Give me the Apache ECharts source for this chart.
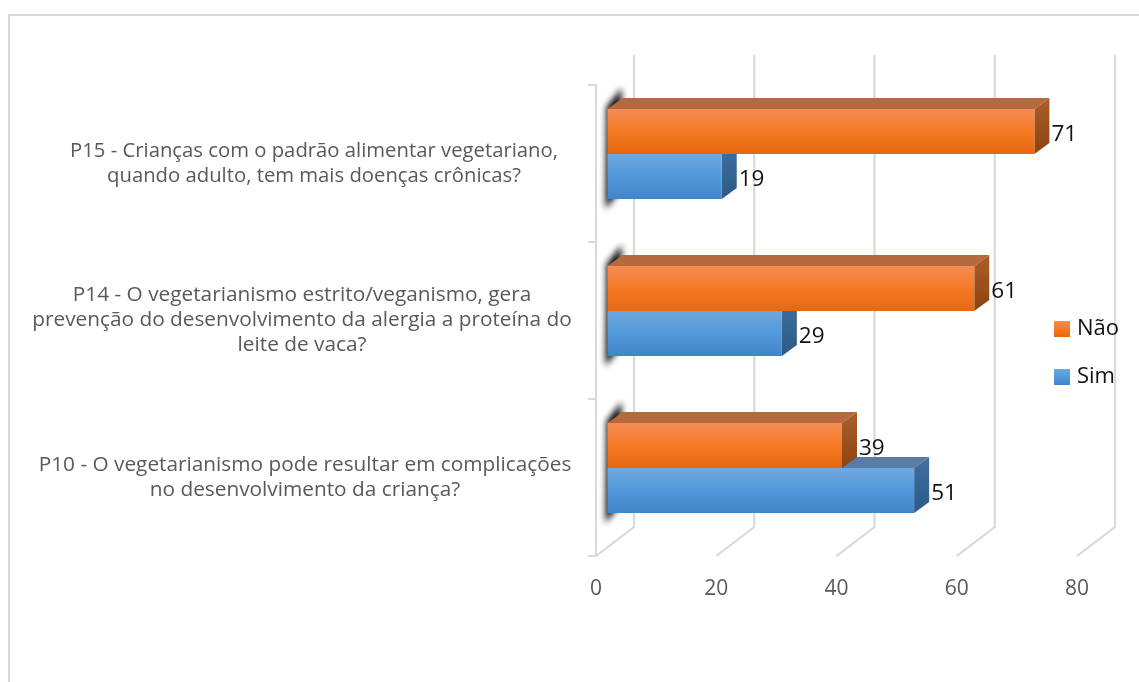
<!DOCTYPE html>
<html>
<head>
<meta charset="utf-8">
<script src="https://cdn.jsdelivr.net/npm/echarts@6/dist/echarts.min.js"></script>
<style>
  html, body { margin: 0; padding: 0; background: #fff; }
  #main { width: 1139px; height: 682px; }
</style>
</head>
<body>
<div id="main"></div>
<script>
// de baixo para cima, como no grafico original
const categories = [
  'P10 - O vegetarianismo pode resultar em complicações\nno desenvolvimento da criança?',
  'P14 - O vegetarianismo estrito/veganismo, gera\nprevenção do desenvolvimento da alergia a proteína do\nleite de vaca?',
  'P15 - Crianças com o padrão alimentar vegetariano,\nquando adulto, tem mais doenças crônicas?'
]
const simValues = [51, 29, 19]
const naoValues = [39, 61, 71]
const ticks = [0, 20, 40, 60, 80]

// deslocamentos do falso 3D (px)
const wallDx = 38, wallDy = -29
const barDx = 11.5, barDy = -9.5
const depthDx = 15, depthDy = -11
const barH = 45
// cada rotulo do eixo tem um centro diferente no original
const labelPadding = [[2, 18, 0, 0], [0, 24, 4, 0], [0, 0, 0, 0]]
const labelSize = [20.8, 20.8, 20.3]
const shadowFar = 3000

const vGrad = (stops) => ({
  type: 'linear', x: 0, y: 0, x2: 0, y2: 1,
  colorStops: stops.map((c, i) => ({ offset: i / (stops.length - 1), color: c }))
})

const orange = {
  front: vGrad(['#f58c53', '#f57a26', '#e6670f']),
  top: '#b5693f',
  side: vGrad(['#ab5e2a', '#8c4510'])
}
const blue = {
  front: vGrad(['#6fa8df', '#5298da', '#4285c6']),
  top: '#587ca6',
  side: vGrad(['#41709f', '#2a5a88'])
}

const poly = (points, fill, extra) => ({
  type: 'polygon',
  shape: { points },
  style: Object.assign({ fill }, extra || {})
})

// barra 3D: slot 0 = metade de cima da categoria, 1 = metade de baixo
function barRender(colors, slot) {
  return (params, api) => {
    const value = api.value(0)
    const cat = api.value(1)
    const p0 = api.coord([0, cat])
    const p1 = api.coord([value, cat])
    const x0 = p0[0] + barDx
    const x1 = p1[0] + barDx
    const y0 = p0[1] + barDy - barH + slot * barH
    const y1 = y0 + barH
    return {
      type: 'group',
      children: [
        poly([[x0, y0], [x1, y0], [x1 + depthDx, y0 + depthDy], [x0 + depthDx, y0 + depthDy]], colors.top),
        poly([[x1, y0], [x1 + depthDx, y0 + depthDy], [x1 + depthDx, y1 + depthDy], [x1, y1]], colors.side),
        poly([[x0, y0], [x1, y0], [x1, y1], [x0, y1]], colors.front),
        {
          type: 'text',
          style: {
            text: String(value),
            x: x1 + depthDx + 2,
            y: (y0 + y1) / 2 + 3.5,
            fill: '#111',
            font: '22.5px "Open Sans"',
            verticalAlign: 'middle',
            align: 'left'
          }
        }
      ]
    }
  }
}

// sombra na base das barras: o poligono fica fora da tela, so o borrado aparece
function shadowRender(params, api) {
  const cat = api.value(0)
  const p0 = api.coord([0, cat])
  const x0 = p0[0] + barDx - shadowFar
  const y0 = p0[1] + barDy - barH
  const y1 = y0 + 2 * barH
  return poly(
    [[x0 - 1, y0 - 2], [x0 + depthDx - 1, y0 + depthDy - 10], [x0 + depthDx - 1, y1 - 10], [x0 - 2, y1 + 10]],
    '#000',
    { shadowBlur: 6, shadowOffsetX: shadowFar, shadowColor: 'rgba(10,10,10,1)' }
  )
}

// linhas de grade: chao + parede do fundo
function wallRender(params, api) {
  const v = api.value(0)
  const floor = api.coord([v, 0])
  const x = floor[0]
  const yFloor = params.coordSys.y + params.coordSys.height
  const yTop = params.coordSys.y + wallDy - 1
  return {
    type: 'polyline',
    shape: { points: [[x, yFloor], [x + wallDx, yFloor + wallDy], [x + wallDx, yTop]] },
    style: { stroke: '#d9d9d9', lineWidth: 2.2, fill: 'none' }
  }
}

const chart = echarts.init(document.getElementById('main'), null, { renderer: 'canvas' })

chart.setOption({
  animation: false,
  backgroundColor: '#fff',
  textStyle: { fontFamily: '"Open Sans", sans-serif' },
  graphic: [{
    type: 'polyline',
    silent: true,
    shape: { points: [[9, 682], [9, 15], [1139, 15]] },
    style: { stroke: '#d9d9d9', lineWidth: 2, fill: 'none' }
  }],
  grid: { left: 596, top: 85, width: 481, height: 471, outerBoundsMode: 'none' },
  legend: {
    data: ['Não', 'Sim'],
    orient: 'vertical',
    left: 1049,
    top: 313,
    icon: 'rect',
    itemWidth: 16,
    itemHeight: 16,
    itemGap: 26,
    selectedMode: false,
    textStyle: { color: '#111', fontSize: 22, padding: [0, 0, 0, 2] }
  },
  xAxis: {
    type: 'value',
    min: 0,
    max: 80,
    interval: 20,
    axisLine: { show: false },
    axisTick: { show: false },
    splitLine: { show: false },
    axisLabel: {
      color: '#595959',
      fontSize: 21,
      margin: 23,
      showMinLabel: true,
      showMaxLabel: true
    }
  },
  yAxis: {
    type: 'category',
    data: categories.map((c, i) => ({
      value: c,
      textStyle: { align: 'center', fontSize: labelSize[i], padding: labelPadding[i] }
    })),
    axisLine: { show: true, lineStyle: { color: '#d9d9d9', width: 2 } },
    axisTick: { show: true, length: 8, lineStyle: { color: '#d9d9d9', width: 2 } },
    axisLabel: {
      margin: 282,
      color: '#595959',
      fontSize: 20.8,
      lineHeight: 25
    }
  },
  series: [
    {
      type: 'custom',
      name: 'walls',
      silent: true,
      z: 1,
      renderItem: wallRender,
      encode: { x: 0 },
      data: ticks.map((t) => [t])
    },
    {
      type: 'custom',
      name: 'sombra',
      silent: true,
      z: 2,
      renderItem: shadowRender,
      encode: { y: 0 },
      data: categories.map((c, i) => [i])
    },
    {
      type: 'custom',
      name: 'Sim',
      z: 3,
      itemStyle: { color: blue.front },
      renderItem: barRender(blue, 1),
      encode: { x: 0, y: 1 },
      data: simValues.map((v, i) => [v, i])
    },
    {
      type: 'custom',
      name: 'Não',
      z: 4,
      itemStyle: { color: orange.front },
      renderItem: barRender(orange, 0),
      encode: { x: 0, y: 1 },
      data: naoValues.map((v, i) => [v, i])
    }
  ]
})
</script>
</body>
</html>
